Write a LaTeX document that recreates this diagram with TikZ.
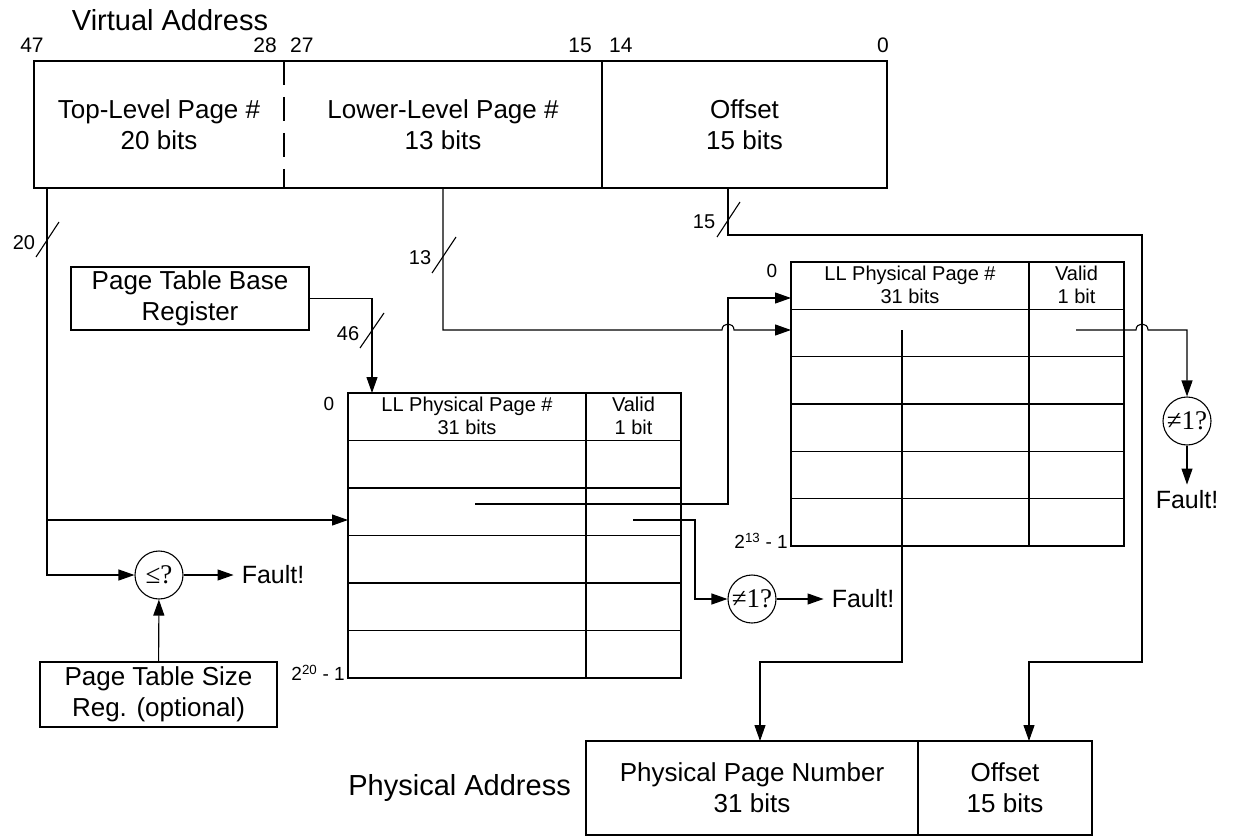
\documentclass[tikz,border=0pt]{standalone}
\usepackage{fontspec}
\setmainfont{Liberation Sans}
\newfontfamily\cmpfont{Liberation Serif}
\usetikzlibrary{arrows.meta,positioning,calc}
\tikzset{
    field/.style={align=center, inner sep=0pt, outer sep=0pt, minimum height=127pt, font=\fontsize{26}{31}\selectfont},
    addrline/.style={line width=2.4pt},
    regbox/.style={draw, line width=2.4pt, align=center, inner sep=0pt, font=\fontsize{26}{31}\selectfont},
    bitlabel/.style={inner sep=0pt, font=\fontsize{21}{21}\selectfont},
    titlelabel/.style={inner sep=0pt, font=\fontsize{29}{29}\selectfont},
    tablebox/.style={draw, line width=1.1pt, inner sep=0pt, outer sep=0pt},
    tabrule/.style={line width=1.1pt},
    tabletext/.style={align=center, inner sep=0pt, font=\fontsize{20}{23}\selectfont},
    indexlabel/.style={inner sep=0pt, font=\fontsize{19}{19}\selectfont},
    cmpnode/.style={draw, circle, line width=1.1pt, minimum size=48pt, inner sep=0pt, font=\cmpfont\fontsize{27}{27}\selectfont},
    faultlabel/.style={inner sep=0pt, font=\fontsize{25}{25}\selectfont},
    buswidth/.style={inner sep=0pt, font=\fontsize{20}{20}\selectfont},
    wire/.style={line width=1.1pt},
    wirearrow/.style={wire, -{Triangle[length=16pt, width=11pt]}}
}

\begin{document}
\begin{tikzpicture}[x=1pt, y=-1pt]
    \useasboundingbox (0,0) rectangle (1233,837);

    % virtual address
    \node[titlelabel] (vatitle) at (170,20) {Virtual Address};
    \node[field, minimum width=250pt] (tlpn) at (159,124.5) {Top-Level Page \#\\20 bits};
    \node[field, minimum width=318pt, right=0pt of tlpn] (llpn) {Lower-Level Page \#\\13 bits};
    \node[field, minimum width=285pt, right=0pt of llpn] (voff) {Offset\\15 bits};
    \draw[addrline] (tlpn.north west) rectangle (voff.south east);
    \draw[addrline, dash pattern=on 24pt off 12pt] (tlpn.north east) -- (tlpn.south east);
    \draw[addrline] (llpn.north east) -- (llpn.south east);

    \node[bitlabel] (b47) at (32,45) {47};
    \node[bitlabel, anchor=east] (b28) at (277,45) {28};
    \node[bitlabel, anchor=west] (b27) at (290,45) {27};
    \node[bitlabel, anchor=east] (b15) at (592,45) {15};
    \node[bitlabel, anchor=west] (b14) at (609,45) {14};
    \node[bitlabel] (b0) at (883,45) {0};

    % registers
    \node[regbox, minimum width=238pt, minimum height=63pt] (ptbr) at (190,298.5) {Page Table Base\\Register};
    \node[regbox, minimum width=237pt, minimum height=65pt] (ptsr) at (158.5,694.5) {Page Table Size\\Reg. (optional)};

    % top-level table
    \node[tablebox, minimum width=333pt, minimum height=285pt] (tlt) at (514.5,535.5) {};
    \foreach \y in {440.5,488,535.5,583,630.5}
        \draw[tabrule] (348,\y) -- (681,\y);
    \draw[tabrule] (586,393) -- (586,678);
    \node[tabletext] (tlthead) at (467,416) {LL Physical Page \#\\31 bits};
    \node[tabletext] (tltvalid) at (633.5,416) {Valid\\1 bit};
    \node[indexlabel] (tltfirst) at (329,404) {0};
    \node[indexlabel, anchor=east] (tltlast) at (345,673) {2\textsuperscript{20} - 1};

    % lower-level table
    \node[tablebox, minimum width=333pt, minimum height=284pt] (llt) at (957.5,404) {};
    \foreach \y in {309.3,356.7,404,451.3,498.7}
        \draw[tabrule] (791,\y) -- (1124,\y);
    \draw[tabrule] (1029,262) -- (1029,546);
    \node[tabletext] (llthead) at (910,285) {LL Physical Page \#\\31 bits};
    \node[tabletext] (lltvalid) at (1076.5,285) {Valid\\1 bit};
    \node[indexlabel] (lltfirst) at (772,271) {0};
    \node[indexlabel, anchor=east] (lltlast) at (788,541) {2\textsuperscript{13} - 1};

    % checks
    \node[cmpnode] (lecmp) at (159,575) {≤?};
    \node[faultlabel, right=58pt of lecmp] (lefault) {Fault!};
    \node[cmpnode] (tlvcmp) at (752,599) {≠1?};
    \node[faultlabel, right=55pt of tlvcmp] (tlfault) {Fault!};
    \node[cmpnode] (llvcmp) at (1187,421) {≠1?};
    \node[faultlabel, below=45pt of llvcmp] (llfault) {Fault!};

    % physical address
    \node[field, draw, line width=2.4pt, minimum width=332pt, minimum height=94pt] (ppn) at (752,788) {Physical Page Number\\31 bits};
    \node[field, draw, line width=2.4pt, minimum width=174pt, minimum height=94pt, right=0pt of ppn] (poff) {Offset\\15 bits};
    \node[titlelabel, left=15pt of ppn] (patitle) {Physical Address};

    \coordinate (tlbus) at (47,188);
    \coordinate (tlidx) at (47,520);
    \coordinate (llbus) at (443,188);
    \coordinate (offbus) at (728,188);
    \coordinate (ppnin) at (791,298);
    \coordinate (llin) at (791,330);
    \coordinate (tlppn) at (475,504);
    \coordinate (tlvalid) at (633,520);
    \coordinate (llppn) at (902,330);
    \coordinate (llvalid) at (1076,330);

    \draw[wirearrow] (tlbus) |- (lecmp);
    \draw[wirearrow] (tlidx) -- (tlidx -| tlt.west);
    \draw[wirearrow] (ptsr) -- (lecmp);
    \draw[wirearrow, shorten >=8pt] (lecmp) -- (lefault);
    \draw[wirearrow] (ptbr) -| ([xshift=24pt]tlt.north west);
    \draw[wirearrow] (llbus) |- (722,330) .. controls (722,322) and (734,322) .. (734,330) -- (llin);
    \draw[wirearrow] (offbus) |- (1142,235) -- (1142,662) -| ([xshift=24pt]poff.north);
    \draw[wirearrow] (tlppn) -- (728,504) -- (728,298) -- (ppnin);
    \draw[wirearrow] (tlvalid) -- (695,520) |- (tlvcmp);
    \draw[wirearrow, shorten >=8pt] (tlvcmp) -- (tlfault);
    \draw[wirearrow] (llppn) -- (902,662) -| ([xshift=8pt]ppn.north);
    \draw[wirearrow] (llvalid) -- (1136,330) .. controls (1136,322) and (1148,322) .. (1148,330) -| (llvcmp);
    \draw[wirearrow, shorten >=6pt] (llvcmp) -- (llfault);

    % bus widths
    \draw[wire] (36,257) -- (59,222);
    \node[buswidth] (tlwidth) at (24,243) {20};
    \draw[wire] (432,273) -- (456,237);
    \node[buswidth] (llwidth) at (420,258) {13};
    \draw[wire] (717,237) -- (740,202);
    \node[buswidth] (offwidth) at (704,222) {15};
    \draw[wire] (360,348) -- (384,313);
    \node[buswidth] (basewidth) at (348,334) {46};
\end{tikzpicture}
\end{document}
